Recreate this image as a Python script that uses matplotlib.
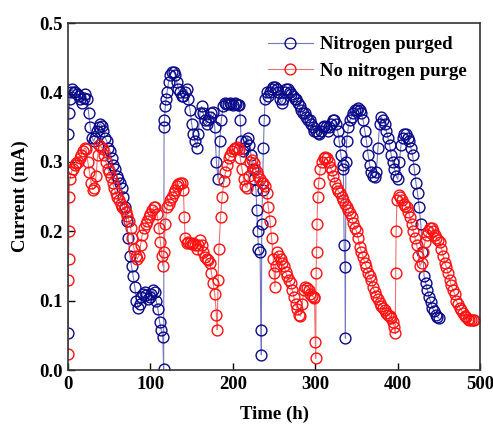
import matplotlib
matplotlib.use('Agg')
import matplotlib.pyplot as plt

# Nitrogen purged (time h, current mA)
t_n2 = [0, 0.5, 1, 2, 3, 5, 7, 9, 11, 13, 15, 17, 19, 21, 23, 25, 27, 29, 31, 33,
        35, 37, 39, 41, 43, 45, 47, 49, 51, 53, 55, 57, 59, 61, 63, 65, 67, 69, 71, 73,
        75, 77, 79, 81, 83, 85, 87, 89, 91, 93, 95, 97, 99, 101, 103, 105, 107, 109, 111, 113,
        115, 116, 116.5, 117, 118, 119, 120, 122, 124, 126, 128, 130, 132, 134, 136, 138, 140, 142, 144, 146,
        148, 150, 152, 154, 156, 158, 160, 162, 164, 166, 168, 170, 172, 174, 176, 178, 180, 182, 184, 186,
        188, 190, 192, 194, 196, 198, 200, 202, 204, 206, 208, 209, 210, 212, 214, 216, 218, 220, 222, 224,
        226, 228, 229, 230, 231, 233, 234, 234.5, 235, 236, 237, 238, 239, 241, 243, 245, 247, 249, 251, 253,
        255, 257, 259, 261, 263, 265, 267, 269, 271, 273, 275, 277, 279, 281, 283, 285, 287, 289, 291, 293,
        295, 297, 299, 301, 303, 305, 307, 309, 311, 313, 315, 317, 319, 321, 323, 325, 327, 329, 331, 333,
        334, 335, 336, 336.5, 337, 338, 340, 342, 344, 346, 348, 350, 352, 354, 356, 358, 360, 362, 364, 366,
        368, 370, 372, 374, 376, 378, 380, 382, 384, 386, 388, 390, 392, 394, 396, 398, 400, 402, 404, 406,
        408, 410, 412, 414, 416, 418, 420, 422, 424, 426, 428, 430, 432, 434, 436, 438, 440, 442, 444, 446,
        448, 450]
i_n2 = [0.053, 0.34, 0.37, 0.39, 0.40, 0.405, 0.40, 0.40, 0.398, 0.395, 0.39, 0.385, 0.392, 0.398, 0.39, 0.37, 0.35, 0.335, 0.33, 0.335,
        0.345, 0.35, 0.355, 0.352, 0.345, 0.335, 0.33, 0.32, 0.315, 0.305, 0.295, 0.29, 0.28, 0.275, 0.27, 0.262, 0.25, 0.235, 0.215, 0.19,
        0.165, 0.15, 0.135, 0.12, 0.10, 0.09, 0.095, 0.105, 0.11, 0.112, 0.108, 0.102, 0.105, 0.11, 0.115, 0.112, 0.10, 0.088, 0.07, 0.058,
        0.048, 0.002, 0.35, 0.36, 0.38, 0.39, 0.40, 0.415, 0.425, 0.43, 0.43, 0.425, 0.415, 0.405, 0.40, 0.395, 0.395, 0.40, 0.405, 0.39,
        0.375, 0.355, 0.34, 0.33, 0.32, 0.34, 0.37, 0.38, 0.37, 0.36, 0.355, 0.36, 0.365, 0.37, 0.372, 0.35, 0.30, 0.275, 0.33, 0.36,
        0.38, 0.385, 0.383, 0.383, 0.385, 0.383, 0.382, 0.385, 0.383, 0.382, 0.382, 0.36, 0.33, 0.315, 0.32, 0.33, 0.335, 0.325, 0.31, 0.29,
        0.275, 0.26, 0.23, 0.20, 0.175, 0.17, 0.058, 0.022, 0.21, 0.26, 0.32, 0.36, 0.39, 0.40, 0.395, 0.40, 0.405, 0.408, 0.408, 0.405,
        0.40, 0.39, 0.385, 0.39, 0.40, 0.405, 0.405, 0.40, 0.398, 0.395, 0.39, 0.39, 0.385, 0.38, 0.375, 0.37, 0.37, 0.365, 0.36, 0.36,
        0.355, 0.35, 0.345, 0.345, 0.342, 0.34, 0.345, 0.35, 0.352, 0.35, 0.345, 0.35, 0.355, 0.36, 0.36, 0.355, 0.345, 0.33, 0.31, 0.295,
        0.29, 0.18, 0.148, 0.046, 0.30, 0.33, 0.35, 0.36, 0.365, 0.37, 0.375, 0.375, 0.378, 0.375, 0.37, 0.36, 0.345, 0.33, 0.31, 0.295,
        0.285, 0.28, 0.278, 0.285, 0.32, 0.355, 0.365, 0.36, 0.355, 0.345, 0.335, 0.325, 0.31, 0.30, 0.29, 0.28, 0.275, 0.30, 0.325, 0.335,
        0.34, 0.34, 0.335, 0.33, 0.32, 0.31, 0.29, 0.27, 0.255, 0.235, 0.21, 0.17, 0.135, 0.125, 0.115, 0.105, 0.098, 0.09, 0.085, 0.08,
        0.077, 0.075]

# No nitrogen purge (time h, current mA)
t_no = [0, 0.3, 0.6, 1, 1.5, 2, 4, 6, 8, 10, 12, 14, 16, 18, 20, 22, 24, 26, 28, 30,
        32, 34, 36, 38, 40, 42, 44, 46, 48, 50, 52, 54, 56, 58, 60, 62, 64, 66, 68, 70,
        72, 74, 76, 78, 80, 82, 84, 86, 88, 90, 92, 94, 96, 98, 100, 102, 104, 106, 108, 110,
        112, 114, 115, 116, 118, 120, 122, 124, 126, 128, 130, 132, 134, 136, 138, 140, 141, 142, 144, 146,
        148, 150, 152, 154, 156, 158, 160, 162, 164, 166, 168, 170, 172, 174, 176, 178, 180, 181, 182, 183,
        185, 187, 189, 191, 193, 195, 197, 199, 201, 203, 205, 207, 209, 211, 213, 215, 217, 219, 221, 223,
        225, 227, 229, 231, 233, 235, 237, 239, 241, 243, 245, 247, 249, 250, 251, 252, 254, 256, 258, 260,
        262, 264, 266, 268, 270, 272, 274, 276, 278, 280, 282, 284, 286, 288, 290, 292, 294, 296, 298, 299,
        300, 300.5, 301, 301.5, 302, 303, 304, 306, 308, 310, 312, 314, 316, 318, 320, 322, 324, 326, 328, 330,
        332, 334, 336, 338, 340, 342, 344, 346, 348, 350, 352, 354, 356, 358, 360, 362, 364, 366, 368, 370,
        372, 374, 376, 378, 380, 382, 384, 386, 388, 390, 392, 394, 396, 397, 397.5, 398, 399, 401, 403, 405,
        407, 409, 411, 413, 415, 417, 419, 421, 423, 425, 427, 429, 431, 433, 435, 437, 439, 441, 443, 445,
        447, 449, 451, 453, 455, 457, 459, 461, 463, 465, 467, 469, 471, 473, 475, 477, 479, 481, 483, 485,
        487, 489, 491, 493]
i_no = [0.024, 0.13, 0.16, 0.20, 0.25, 0.275, 0.285, 0.29, 0.295, 0.298, 0.30, 0.305, 0.31, 0.315, 0.32, 0.318, 0.30, 0.285, 0.27, 0.26,
        0.262, 0.28, 0.31, 0.325, 0.322, 0.318, 0.31, 0.30, 0.29, 0.285, 0.278, 0.27, 0.262, 0.255, 0.25, 0.245, 0.24, 0.235, 0.232, 0.228,
        0.222, 0.215, 0.205, 0.19, 0.175, 0.165, 0.16, 0.165, 0.18, 0.195, 0.205, 0.21, 0.215, 0.22, 0.225, 0.23, 0.235, 0.235, 0.225, 0.205,
        0.185, 0.165, 0.15, 0.17, 0.21, 0.235, 0.24, 0.245, 0.25, 0.255, 0.26, 0.265, 0.268, 0.27, 0.27, 0.26, 0.22, 0.19, 0.183, 0.185,
        0.183, 0.182, 0.183, 0.18, 0.175, 0.18, 0.187, 0.18, 0.17, 0.163, 0.16, 0.158, 0.155, 0.14, 0.125, 0.11, 0.08, 0.058, 0.13, 0.175,
        0.22, 0.25, 0.272, 0.285, 0.295, 0.305, 0.31, 0.315, 0.318, 0.32, 0.322, 0.318, 0.305, 0.29, 0.275, 0.265, 0.262, 0.28, 0.30, 0.302,
        0.298, 0.29, 0.285, 0.28, 0.275, 0.27, 0.27, 0.265, 0.255, 0.235, 0.215, 0.19, 0.16, 0.14, 0.12, 0.15, 0.17, 0.165, 0.16, 0.155,
        0.15, 0.142, 0.135, 0.13, 0.125, 0.115, 0.105, 0.095, 0.088, 0.08, 0.078, 0.095, 0.115, 0.12, 0.118, 0.115, 0.11, 0.107, 0.105, 0.104,
        0.04, 0.017, 0.14, 0.17, 0.21, 0.25, 0.27, 0.29, 0.30, 0.305, 0.307, 0.305, 0.30, 0.293, 0.288, 0.28, 0.27, 0.263, 0.258, 0.255,
        0.25, 0.245, 0.24, 0.235, 0.23, 0.226, 0.22, 0.212, 0.205, 0.20, 0.19, 0.178, 0.17, 0.163, 0.155, 0.148, 0.14, 0.135, 0.13, 0.12,
        0.113, 0.107, 0.102, 0.097, 0.093, 0.09, 0.086, 0.083, 0.08, 0.078, 0.075, 0.07, 0.062, 0.053, 0.14, 0.20, 0.245, 0.252, 0.25, 0.245,
        0.24, 0.237, 0.235, 0.228, 0.22, 0.21, 0.20, 0.19, 0.18, 0.165, 0.15, 0.155, 0.17, 0.185, 0.195, 0.20, 0.205, 0.205, 0.20, 0.195,
        0.19, 0.188, 0.185, 0.175, 0.165, 0.155, 0.148, 0.14, 0.13, 0.122, 0.115, 0.11, 0.10, 0.095, 0.09, 0.087, 0.082, 0.078, 0.076, 0.074,
        0.073, 0.072, 0.072, 0.072]

plt.rcParams['font.family'] = ['Liberation Serif', 'DejaVu Serif']
plt.rcParams['font.weight'] = 'bold'

fig = plt.figure(figsize=(4.93, 4.34), dpi=100)
ax = fig.add_axes([0.138, 0.147, 0.836, 0.800])

ax.plot(t_n2, i_n2, '-o', color='#7777bb', lw=0.8, ms=7.8, mfc='none',
        mec='#0a0a8a', mew=1.0, label='Nitrogen purged')
ax.plot(t_no, i_no, '-o', color='#f07070', lw=0.8, ms=7.8, mfc='none',
        mec='#ff1010', mew=1.0, label='No nitrogen purge')

ax.set_xlim(0, 500)
ax.set_ylim(0, 0.5)
ax.set_xticks([0, 100, 200, 300, 400, 500])
ax.set_yticks([0.0, 0.1, 0.2, 0.3, 0.4, 0.5])
ax.set_yticklabels(['0.0', '0.1', '0.2', '0.3', '0.4', '0.5'])
ax.tick_params(direction='in', length=5, width=1, labelsize=13.5, pad=4)
for s in ax.spines.values():
    s.set_linewidth(1.2)
    s.set_color('#333333')

ax.set_xlabel('Time (h)', fontsize=13.5, fontweight='bold', labelpad=9)
ax.set_ylabel('Current (mA)', fontsize=13.5, fontweight='bold', labelpad=7)

ax.legend(loc='upper right', frameon=False, fontsize=13.5, handlelength=2.4,
          handletextpad=0.4, labelspacing=0.5, borderaxespad=0.3)

fig.savefig('out.png', dpi=100)
